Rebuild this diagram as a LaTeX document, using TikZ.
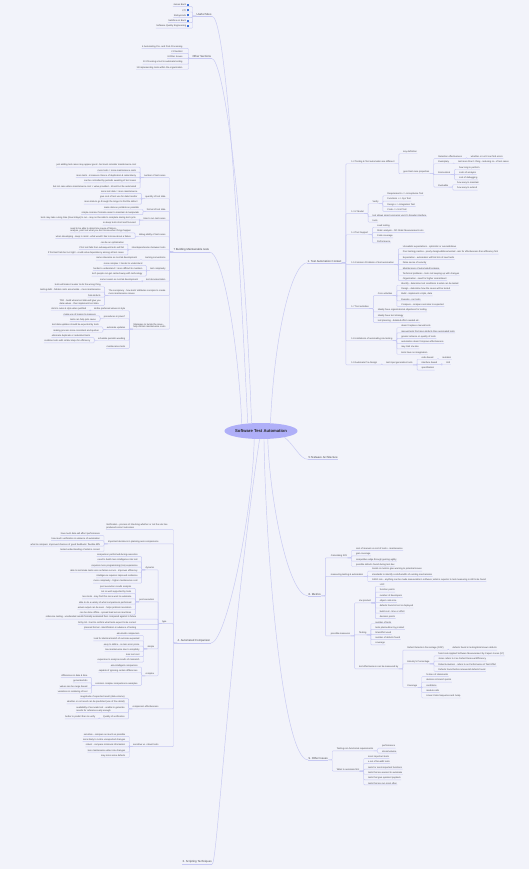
\documentclass[tikz,border=0pt]{standalone}
\usepackage{fontspec}
\setmainfont{Liberation Sans}
\usetikzlibrary{shapes.geometric}
\definecolor{bg}{RGB}{242,243,250}
\definecolor{lnc}{RGB}{198,200,242}
\definecolor{tx}{RGB}{70,70,75}
\definecolor{ctr}{RGB}{175,175,248}
\definecolor{lk}{RGB}{70,120,220}
\tikzset{
 lf/.style={font=\fontsize{2.3}{2.7}\selectfont, text=tx, inner xsep=0.3pt, inner ysep=0.5pt, align=left},
 br/.style={font=\fontsize{2.8}{3.3}\selectfont, text=tx, inner xsep=0.3pt, inner ysep=0.6pt},
 cn/.style={draw=lnc, line width=0.45pt, rounded corners=0.8pt},
 ctrn/.style={ellipse, fill=ctr, minimum width=72pt, minimum height=16pt, inner sep=0pt, font=\bfseries\fontsize{4.2}{5}\selectfont, text=black!85},
}
\newcommand\ico{\textcolor{lk}{\rule{2pt}{2pt}}}
% right child: [extra gap]{name}{parent}{y}{text}
\newcommand\RC[5][0]{%
  \path (#3.south east) ++(8+#1,0) coordinate (tmpx);
  \coordinate (tmpy) at (0,#4);
  \node[lf,anchor=west] (#2) at (tmpx |- tmpy) {#5};
  \draw[cn] (#3.south east) -- ++(4,0) |- (#2.south west) -- (#2.south east);
}
% left child
\newcommand\LC[5][0]{%
  \path (#3.south west) ++(-7-#1,0) coordinate (tmpx);
  \coordinate (tmpy) at (0,#4);
  \node[lf,anchor=east] (#2) at (tmpx |- tmpy) {#5};
  \draw[cn] (#3.south west) -- ++(-3.5,0) |- (#2.south east) -- (#2.south west);
}
\begin{document}
\begin{tikzpicture}[x=1pt,y=-1pt]
\fill[bg] (0,0) rectangle (529,869);
\useasboundingbox (0,0) rectangle (529,869);

\node[ctrn] (root) at (261,431) {Software Test Automation};

\node[br,anchor=west] (US) at (196,14.3) {Useful Sites};
\node[br,anchor=west] (OS) at (192,56.5) {Other Sections};
\node[br,anchor=west] (B7) at (173,250) {7 Building Maintainable tests};
\node[br,anchor=west] (A1) at (307,261) {1. Test Automation Context};
\node[br,anchor=west] (T5) at (308,457.5) {5.Testware Architecture};
\node[br,anchor=west] (M8) at (308,594) {8. Metrics};
\node[br,anchor=west] (O9) at (308,758) {9. Other Issues};
\node[br,anchor=west] (C4) at (177,641) {4. Automated Comparison};
\node[br,anchor=west] (S3) at (182,862) {3. Scripting Techniques};
\foreach \n in {US,OS,B7,A1,T5,M8,O9,C4,S3} \draw[cn] (\n.south west) -- (\n.south east);

\draw[cn] (US.south east) .. controls +(12,0) and +(-12,-250) .. (root.150);
\draw[cn] (OS.south east) .. controls +(12,0) and +(-8,-220) .. (root.140);
\draw[cn] (B7.south east) .. controls +(12,0) and +(-4,-90) .. (root.160);
\draw[cn] (A1.south west) .. controls +(-15,0) and +(4,-90) .. (root.40);
\draw[cn] (T5.south west) .. controls +(-8,0) and +(10,8) .. (root.-15);
\draw[cn] (M8.south west) .. controls +(-20,0) and +(2,60) .. (root.-50);
\draw[cn] (O9.south west) .. controls +(-25,0) and +(2,120) .. (root.-70);
\draw[cn] (C4.south east) .. controls +(15,0) and +(-2,80) .. (root.-130);
\draw[cn] (S3.south east) .. controls +(5,0) and +(-30,200) .. (root.-100);

% ---------- Useful Sites
\LC{us1}{US}{5}{James Bach\,\ico}
\LC{us2}{US}{10.3}{CTI\,\ico}
\LC{us3}{US}{15.6}{Stickyminds\,\ico}
\LC{us4}{US}{20.9}{Satisfice on Bach\,\ico}
\LC{us5}{US}{26.2}{Software Quality Engineering\,\ico}
% ---------- Other Sections
\LC[2]{os1}{OS}{46.7}{6 Automating Pre- and Post-Processing}
\LC[2]{os2}{OS}{51.9}{2 Checklist}
\LC[2]{os3}{OS}{57.1}{8 Other Issues}
\LC[2]{os4}{OS}{62.3}{10 Choosing a tool to automate testing}
\LC[2]{os5}{OS}{67.5}{11 Implementing tools within the organization}

% ---------- 1. Test Automation Context
\RC[1]{a12}{A1}{162}{1.2 Testing \& Test automation are different}
  \RC{a12a}{a12}{152}{key definition}
  \RC{a12b}{a12}{172}{good test case properties}
    \RC{e1}{a12b}{157}{Detection effectiveness}
      \RC{e11}{e1}{157}{whether or not it can find errors}
    \RC{e2}{a12b}{162}{Exemplary}
      \RC{e21}{e2}{162}{test more than 1 thing - reducing no. of test cases}
    \RC{e3}{a12b}{173}{Economical}
      \RC{e31}{e3}{167.5}{how long to perform}
      \RC{e32}{e3}{172.8}{costs of analysis}
      \RC{e33}{e3}{178.1}{cost of debugging}
    \RC{e4}{a12b}{185.5}{Evolvable}
      \RC{e41}{e4}{183}{how easy to maintain}
      \RC{e42}{e4}{188.3}{how easy to extend}
\RC[1]{a13}{A1}{212}{1.3 V Model}
  \RC{a13a}{a13}{202}{Verify}
    \RC{v1}{a13a}{194}{Requirements <-> Acceptance Test}
    \RC{v2}{a13a}{199.3}{Functions <-> Sys Test}
    \RC{v3}{a13a}{204.6}{Design <-> Integration Test}
    \RC{v4}{a13a}{209.9}{Code <-> Unit Test}
  \RC{a13b}{a13}{215.2}{test allows smart scenarios via UI's broader interface}
  \RC{a13c}{a13}{220.5}{tools}
\RC[1]{a14}{A1}{233}{1.4 Tool Support}
  \RC{t1}{a14}{225.5}{Load testing}
  \RC{t2}{a14}{230.8}{Static analysis - OO Static Measurements etc.}
  \RC{t3}{a14}{236.1}{Code coverage}
  \RC{t4}{a14}{241.4}{Performance}
\RC[1]{a15}{A1}{263}{1.5 Common Problems of test automation}
  \RC{p1}{a15}{247}{Unrealistic expectations - optimistic or overambitious}
  \RC{p2}{a15}{252.3}{Poor testing practice - poorly designed/documented - aim for effectiveness then efficiency first}
  \RC{p3}{a15}{257.6}{Expectation - automation will find lots of new faults}
  \RC{p4}{a15}{262.9}{False sense of security}
  \RC{p5}{a15}{268.2}{Maintenance of automated testware}
  \RC{p6}{a15}{273.5}{Technical problems - tools not keeping up with changes}
  \RC{p7}{a15}{278.8}{Organization - need for higher commitment}
\RC[1]{a17}{A1}{307}{1.7 Test activities}
  \RC{ca}{a17}{294}{Core activities}
    \RC{ca1}{ca}{283.5}{Identify - determine test conditions \& what can be tested}
    \RC{ca2}{ca}{288.8}{Design - determine how the cases will be tested}
    \RC{ca3}{ca}{294.1}{Build - implement scripts, data}
    \RC{ca4}{ca}{299.4}{Execute - run tests}
    \RC{ca5}{ca}{304.7}{Compare - compare outcome to expected}
  \RC{ta2}{a17}{310.2}{Ideally have organizational objectives for testing}
  \RC{ta3}{a17}{315.5}{Ideally have test strategy}
  \RC{ta4}{a17}{320.8}{test planning - detailed effort needed etc.}
\RC[1]{a18}{A1}{339}{1.8 Limitations of automating s/w testing}
  \RC{l1}{a18}{326}{doesn't replace manual tests}
  \RC{l2}{a18}{331.3}{manual tests find more defects than automated tests}
  \RC{l3}{a18}{336.6}{greater reliance on quality of tests}
  \RC{l4}{a18}{341.9}{automation doesn't improve effectiveness}
  \RC{l5}{a18}{347.2}{may limit s/w dev}
  \RC{l6}{a18}{352.5}{tools have no imagination}
\RC[1]{a19}{A1}{363}{1.9 Automate Pre-Design}
  \RC{g0}{a19}{363}{test input generation tools}
    \RC{g1}{g0}{357.7}{code based}
      \RC{g11}{g1}{357.7}{mutation}
    \RC{g2}{g0}{363}{interface based}
      \RC{g21}{g2}{363}{GUI}
    \RC{g3}{g0}{368.3}{specification}

% ---------- 7 Building Maintainable tests
\LC{b1}{B7}{176}{number of test cases}
  \LC{b11}{b1}{165.3}{just adding test cases may appear good - but must consider maintenance cost}
  \LC{b12}{b1}{170.6}{more tests = more maintenance costs}
  \LC{b13}{b1}{175.9}{more tests - increases chance of duplication \& redundancy}
  \LC{b14}{b1}{181.2}{can be controlled by periodic weeding of test cases}
  \LC{b15}{b1}{186.5}{but not case where maintenance cost > value provided - should not be automated}
\LC{b2}{B7}{197}{quantity of test data}
  \LC{b21}{b2}{191.8}{more test data = more maintenance}
  \LC{b22}{b2}{197.1}{give cost of test use for data transfer}
  \LC{b23}{b2}{202.4}{more data to go through the longer to find the defect}
\LC{b3}{B7}{210}{format of test data}
  \LC{b31}{b3}{207.5}{make data as portable as possible}
  \LC{b32}{b3}{212.8}{simple common formats easier to maintain \& manipulate}
\LC{b4}{B7}{218.5}{time to run test cases}
  \LC{b41}{b4}{218.1}{tests may take a long time (hours/days) to run - may not be able to complete during test cycle}
  \LC{b42}{b4}{223.4}{so keep tests short and focused}
\LC{b5}{B7}{235}{debug ability of test cases}
  \LC{b51}{b5}{229.8}{need to be able to determine cause of failure -\\analyse, point out what you don't know when things happen}
  \LC{b52}{b5}{236.7}{when developing - keep in mind - what would I like to know about a failure}
\LC{b6}{B7}{248}{interdependencies between tests}
  \LC{b61}{b6}{242.5}{can be an optimization}
  \LC{b62}{b6}{247.8}{if 1st test fails then subsequent tests will fail}
  \LC{b63}{b6}{253.1}{if first test fails but not right - could solve dependency among all test cases}
\LC{b7}{B7}{258.4}{naming conventions}
  \LC{b71}{b7}{258.4}{same relevance as normal development}
\LC{b8}{B7}{269}{test complexity}
  \LC{b81}{b8}{263.7}{more complex = harder to understand}
  \LC{b82}{b8}{269}{harder to understand = more difficult to maintain}
  \LC{b83}{b8}{274.3}{tech people can get carried away with technology}
\LC{b9}{B7}{279.6}{test documentation}
  \LC{b91}{b9}{279.6}{same reason as normal development}
\LC{b10}{B7}{292.5}{The conspiracy - how tests' attributes conspire to create\\more maintenance issues}
  \LC{b101}{b10}{285}{tests will make it easier to do the wrong thing}
  \LC{b102}{b10}{290.3}{testing debt - hidden costs accumulate - more maintenance}
  \LC{b103}{b10}{295.6}{hide defects}
  \LC{b104}{b10}{302.2}{TDD - build where test data will give you\\data values - then implement test data}
\LC{b11}{B7}{326}{Strategies to tackle the issue -\\help contain maintenance costs}
  \LC{s1}{b11}{309}{define preferred values \& style}
    \LC{s11}{s1}{309}{stick to rules \& style when justified}
  \LC{s2}{b11}{317}{procedures in place?}
    \LC{s21}{s2}{314.3}{make use of means to measure}
    \LC{s22}{s2}{319.6}{tests can help pick cause}
  \LC{s3}{b11}{327.8}{automate updates}
    \LC{s31}{s3}{325.2}{test data updates should be expected by tools}
    \LC{s32}{s3}{330.5}{making process more consistent and quicker}
  \LC{s4}{b11}{338.5}{schedule periodic weeding}
    \LC{s41}{s4}{335.9}{eliminate duplicate or redundant tests}
    \LC{s42}{s4}{341.2}{combine tests with similar steps for efficiency}
  \LC{s5}{b11}{346.8}{maintenance tests}

% ---------- 4. Automated Comparison
\LC[2]{c0}{C4}{526.5}{Verification - process of checking whether or not the s/w has\\produced correct outcomes}
\LC[11]{c1}{C4}{542}{Important decisions in planning auto comparisons}
  \LC{c11}{c1}{533.8}{how much data will affect performance}
  \LC{c12}{c1}{539.1}{how much verification in advance of automation}
  \LC{c13}{c1}{544.4}{what to compare: improved chances of good feedback / flexible diffs}
  \LC{c14}{c1}{549.7}{tested understanding of what is correct}
\LC[3]{ty}{C4}{622}{type}
  \LC{dy}{ty}{568}{dynamic}
    \LC{dy1}{dy}{554.8}{comparison performed during execution}
    \LC{dy2}{dy}{560.1}{need to build more intelligence into test}
    \LC{dy3}{dy}{565.4}{requires more programming (s/w) experience}
    \LC{dy4}{dy}{570.7}{able to terminate tests soon as failure occurs - improves efficiency}
    \LC{dy5}{dy}{576}{intelligence requires improved resilience}
    \LC{dy6}{dy}{581.3}{more complexity - higher maintenance cost}
  \LC{pe}{ty}{600}{post execution}
    \LC{pe1}{pe}{586.5}{post execution results analysis}
    \LC{pe2}{pe}{591.8}{not so well supported by tools}
    \LC{pe3}{pe}{597.1}{less tools - may find this more work to automate}
    \LC{pe4}{pe}{602.4}{able to do a variety of what comparisons performed}
    \LC{pe5}{pe}{607.7}{actual output can be seen - helps problem resolution}
    \LC{pe6}{pe}{613}{can be done offline - spread load across machines}
  \LC[18]{ty1}{ty}{617.3}{reference testing - unattended results formally evaluated then compared against in future}
  \LC[18]{ty2}{ty}{622.6}{bit by bit - hard to confirm what tests expect to be correct}
  \LC[18]{ty3}{ty}{627.9}{planned format - identification in advance of testing}
  \LC{sm}{ty}{647}{simple}
    \LC{sm1}{sm}{633.8}{aka dumb comparison}
    \LC{sm2}{sm}{639.1}{look for identical match of outcome expected}
    \LC{sm3}{sm}{644.4}{easy to define - so less error prone}
    \LC{sm4}{sm}{649.7}{low maintenance due to simplicity}
    \LC{sm5}{sm}{655}{less tool cost}
    \LC{sm6}{sm}{660.3}{expensive to analyze results of mismatch}
  \LC{cx}{ty}{674}{complex}
    \LC{cx1}{cx}{665.4}{aka intelligent comparison}
    \LC{cx2}{cx}{670.7}{capable of ignoring certain differences}
    \LC{cx3}{cx}{683.5}{common complex comparisons examples}
      \LC{cx31}{cx3}{675.8}{differences in date \& time}
      \LC{cx32}{cx3}{681.1}{generated ids}
      \LC{cx33}{cx3}{686.4}{values can be range based}
      \LC{cx34}{cx3}{691.7}{variations in rendering of text}
\LC[11]{ce}{C4}{707}{comparison effectiveness}
  \LC{ce1}{ce}{696.8}{magnitude of expected result (data volume)}
  \LC{ce2}{ce}{702.1}{whether or not result can be predicted (use of fine detail)}
  \LC{ce3}{ce}{709.2}{availability of accurate test - unable to generate\\results for reference early enough}
  \LC{ce4}{ce}{717}{Quality of verification}
    \LC{ce41}{ce4}{717}{better to predict than to verify}
\LC[11]{se}{C4}{745}{sensitive vs. robust tests}
  \LC{se1}{se}{734.5}{sensitive - compare as much as possible}
  \LC{se2}{se}{739.8}{more likely to notice unexpected changes}
  \LC{se3}{se}{745.1}{robust - compare minimum information}
  \LC{se4}{se}{750.4}{less maintenance when s/w changes}
  \LC{se5}{se}{755.7}{may miss some defects}

% ---------- 8. Metrics
\RC[1]{m1}{M8}{556}{Calculating ROI}
  \RC{m11}{m1}{548.8}{cost of manual vs cost of tools + maintenance}
  \RC{m12}{m1}{554.1}{gain coverage}
  \RC{m13}{m1}{559.4}{competitive edge through gaining agility}
  \RC{m14}{m1}{564.7}{possible defects found during test dev}
\RC[1]{m2}{M8}{574.5}{measuring testing \& automation}
  \RC{m21}{m2}{569.3}{trends in metrics give warning to potential issues}
  \RC{m22}{m2}{574.6}{standards to identify costs/benefits of existing mechanisms}
  \RC{m23}{m2}{579.9}{GIGO rule - anything can be made measurable in software; what is superior to test measuring is still to be found}
\RC[1]{m3}{M8}{634}{possible measures}
  \RC{sp}{m3}{601}{s/w product}
    \RC{sp1}{sp}{585}{LOC}
    \RC{sp2}{sp}{590.3}{function points}
    \RC{sp3}{sp}{595.6}{number of developers}
    \RC{sp4}{sp}{600.9}{object code size}
    \RC{sp5}{sp}{606.2}{defects found in test or deployed}
    \RC{sp6}{sp}{611.5}{build cost - time or effort}
    \RC{sp7}{sp}{616.8}{decision points}
  \RC{ts}{m3}{633}{Testing}
    \RC{ts1}{ts}{622.2}{number of tests}
    \RC{ts2}{ts}{627.5}{tests planned/run by product}
    \RC{ts3}{ts}{632.8}{time/effort used}
    \RC{ts4}{ts}{638.1}{number of defects found}
    \RC{ts5}{ts}{643.4}{coverage}
  \RC{te}{m3}{667}{test effectiveness can be measured by}
    \RC{dd}{te}{648.3}{Defect Detection Percentage (DDP)}
      \RC{dd1}{dd}{648.3}{defects found in testing/total known defects}
    \RC{ip}{te}{662}{Industry's Percentage}
      \RC{ip1}{ip}{654}{from book Applied Software Measurement by Capers Jones (97)}
      \RC{ip2}{ip}{659.3}{Jones refers to it as Defect Removal Efficiency}
      \RC{ip3}{ip}{664.6}{Roberta Hudson - refers to as Performance of Test Effort}
      \RC{ip4}{ip}{669.9}{Defects found before release/all defects found}
    \RC{cv}{te}{685.5}{Coverage}
      \RC{cv1}{cv}{675}{\% lines of statements}
      \RC{cv2}{cv}{680.3}{decision \& branch points}
      \RC{cv3}{cv}{685.6}{conditions}
      \RC{cv4}{cv}{690.9}{module calls}
      \RC{cv5}{cv}{696.2}{Linear Code Sequence and Jump}

% ---------- 9. Other Issues
\RC{o1}{O9}{749}{Testing non-functional requirements}
  \RC{o11}{o1}{746.3}{performance}
  \RC{o12}{o1}{751.6}{stress/volume}
\RC{o2}{O9}{769.5}{What to automate first}
  \RC{o21}{o2}{756.8}{most important tests}
  \RC{o22}{o2}{762.1}{a set of breadth tests}
  \RC{o23}{o2}{767.4}{tests for most important functions}
  \RC{o24}{o2}{772.7}{tests that are easiest to automate}
  \RC{o25}{o2}{778}{tests that give quickest payback}
  \RC{o26}{o2}{783.3}{tests that are run most often}
\end{tikzpicture}
\end{document}
